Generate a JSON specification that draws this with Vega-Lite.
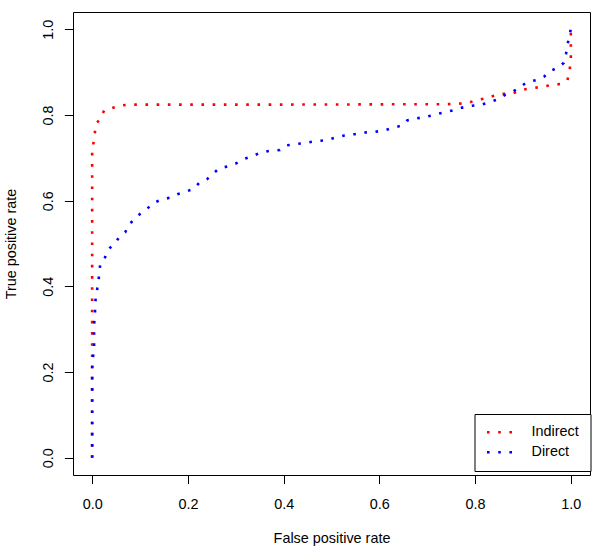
{
  "$schema": "https://vega.github.io/schema/vega-lite/v6.json",
  "width": 517,
  "height": 463,
  "autosize": {"type": "none"},
  "padding": {"left": 73, "top": 12, "right": 10, "bottom": 79},
  "background": "white",
  "config": {
    "view": {"stroke": "black", "strokeWidth": 1},
    "axis": {
      "domain": false,
      "grid": false,
      "ticks": true,
      "tickColor": "black",
      "tickSize": 8.6,
      "tickWidth": 1,
      "labelFont": "Liberation Sans",
      "labelFontSize": 14.4,
      "labelColor": "black",
      "titleFont": "Liberation Sans",
      "titleFontSize": 14.4,
      "titleFontWeight": "normal",
      "titleColor": "black"
    }
  },
  "data": {
    "values": [
      {"s": "Indirect", "i": 0, "fpr": 0, "tpr": 0},
      {"s": "Indirect", "i": 1, "fpr": 0, "tpr": 0.72},
      {"s": "Indirect", "i": 2, "fpr": 0.002, "tpr": 0.728},
      {"s": "Indirect", "i": 3, "fpr": 0.005, "tpr": 0.753},
      {"s": "Indirect", "i": 4, "fpr": 0.008, "tpr": 0.778},
      {"s": "Indirect", "i": 5, "fpr": 0.017, "tpr": 0.792},
      {"s": "Indirect", "i": 6, "fpr": 0.025, "tpr": 0.81},
      {"s": "Indirect", "i": 7, "fpr": 0.042, "tpr": 0.816},
      {"s": "Indirect", "i": 8, "fpr": 0.06, "tpr": 0.822},
      {"s": "Indirect", "i": 9, "fpr": 0.082, "tpr": 0.824},
      {"s": "Indirect", "i": 10, "fpr": 0.4, "tpr": 0.824},
      {"s": "Indirect", "i": 11, "fpr": 0.74, "tpr": 0.825},
      {"s": "Indirect", "i": 12, "fpr": 0.783, "tpr": 0.827},
      {"s": "Indirect", "i": 13, "fpr": 0.801, "tpr": 0.834},
      {"s": "Indirect", "i": 14, "fpr": 0.819, "tpr": 0.838},
      {"s": "Indirect", "i": 15, "fpr": 0.838, "tpr": 0.844},
      {"s": "Indirect", "i": 16, "fpr": 0.857, "tpr": 0.849},
      {"s": "Indirect", "i": 17, "fpr": 0.879, "tpr": 0.85},
      {"s": "Indirect", "i": 18, "fpr": 0.896, "tpr": 0.858},
      {"s": "Indirect", "i": 19, "fpr": 0.916, "tpr": 0.862},
      {"s": "Indirect", "i": 20, "fpr": 0.937, "tpr": 0.865},
      {"s": "Indirect", "i": 21, "fpr": 0.957, "tpr": 0.869},
      {"s": "Indirect", "i": 22, "fpr": 0.978, "tpr": 0.872},
      {"s": "Indirect", "i": 23, "fpr": 0.993, "tpr": 0.881},
      {"s": "Indirect", "i": 24, "fpr": 0.997, "tpr": 0.902},
      {"s": "Indirect", "i": 25, "fpr": 1, "tpr": 0.925},
      {"s": "Indirect", "i": 26, "fpr": 1, "tpr": 0.951},
      {"s": "Indirect", "i": 27, "fpr": 1, "tpr": 0.976},
      {"s": "Indirect", "i": 28, "fpr": 1, "tpr": 1},
      {"s": "Direct", "i": 0, "fpr": 0, "tpr": 0},
      {"s": "Direct", "i": 1, "fpr": 0, "tpr": 0.21},
      {"s": "Direct", "i": 2, "fpr": 0.002, "tpr": 0.236},
      {"s": "Direct", "i": 3, "fpr": 0.004, "tpr": 0.261},
      {"s": "Direct", "i": 4, "fpr": 0.004, "tpr": 0.311},
      {"s": "Direct", "i": 5, "fpr": 0.006, "tpr": 0.334},
      {"s": "Direct", "i": 6, "fpr": 0.006, "tpr": 0.36},
      {"s": "Direct", "i": 7, "fpr": 0.009, "tpr": 0.383},
      {"s": "Direct", "i": 8, "fpr": 0.0125, "tpr": 0.407},
      {"s": "Direct", "i": 9, "fpr": 0.015, "tpr": 0.43},
      {"s": "Direct", "i": 10, "fpr": 0.017, "tpr": 0.454},
      {"s": "Direct", "i": 11, "fpr": 0.027, "tpr": 0.468},
      {"s": "Direct", "i": 12, "fpr": 0.034, "tpr": 0.487},
      {"s": "Direct", "i": 13, "fpr": 0.047, "tpr": 0.499},
      {"s": "Direct", "i": 14, "fpr": 0.056, "tpr": 0.514},
      {"s": "Direct", "i": 15, "fpr": 0.069, "tpr": 0.526},
      {"s": "Direct", "i": 16, "fpr": 0.077, "tpr": 0.544},
      {"s": "Direct", "i": 17, "fpr": 0.089, "tpr": 0.558},
      {"s": "Direct", "i": 18, "fpr": 0.101, "tpr": 0.57},
      {"s": "Direct", "i": 19, "fpr": 0.115, "tpr": 0.581},
      {"s": "Direct", "i": 20, "fpr": 0.127, "tpr": 0.594},
      {"s": "Direct", "i": 21, "fpr": 0.144, "tpr": 0.602},
      {"s": "Direct", "i": 22, "fpr": 0.163, "tpr": 0.607},
      {"s": "Direct", "i": 23, "fpr": 0.178, "tpr": 0.615},
      {"s": "Direct", "i": 24, "fpr": 0.196, "tpr": 0.621},
      {"s": "Direct", "i": 25, "fpr": 0.213, "tpr": 0.628},
      {"s": "Direct", "i": 26, "fpr": 0.224, "tpr": 0.642},
      {"s": "Direct", "i": 27, "fpr": 0.24, "tpr": 0.65},
      {"s": "Direct", "i": 28, "fpr": 0.252, "tpr": 0.662},
      {"s": "Direct", "i": 29, "fpr": 0.265, "tpr": 0.675},
      {"s": "Direct", "i": 30, "fpr": 0.284, "tpr": 0.68},
      {"s": "Direct", "i": 31, "fpr": 0.301, "tpr": 0.687},
      {"s": "Direct", "i": 32, "fpr": 0.316, "tpr": 0.697},
      {"s": "Direct", "i": 33, "fpr": 0.334, "tpr": 0.703},
      {"s": "Direct", "i": 34, "fpr": 0.351, "tpr": 0.712},
      {"s": "Direct", "i": 35, "fpr": 0.37, "tpr": 0.716},
      {"s": "Direct", "i": 36, "fpr": 0.392, "tpr": 0.718},
      {"s": "Direct", "i": 37, "fpr": 0.406, "tpr": 0.729},
      {"s": "Direct", "i": 38, "fpr": 0.427, "tpr": 0.732},
      {"s": "Direct", "i": 39, "fpr": 0.448, "tpr": 0.735},
      {"s": "Direct", "i": 40, "fpr": 0.468, "tpr": 0.739},
      {"s": "Direct", "i": 41, "fpr": 0.49, "tpr": 0.741},
      {"s": "Direct", "i": 42, "fpr": 0.508, "tpr": 0.747},
      {"s": "Direct", "i": 43, "fpr": 0.527, "tpr": 0.752},
      {"s": "Direct", "i": 44, "fpr": 0.548, "tpr": 0.755},
      {"s": "Direct", "i": 45, "fpr": 0.568, "tpr": 0.759},
      {"s": "Direct", "i": 46, "fpr": 0.589, "tpr": 0.76},
      {"s": "Direct", "i": 47, "fpr": 0.61, "tpr": 0.764},
      {"s": "Direct", "i": 48, "fpr": 0.628, "tpr": 0.77},
      {"s": "Direct", "i": 49, "fpr": 0.647, "tpr": 0.775},
      {"s": "Direct", "i": 50, "fpr": 0.658, "tpr": 0.787},
      {"s": "Direct", "i": 51, "fpr": 0.679, "tpr": 0.792},
      {"s": "Direct", "i": 52, "fpr": 0.699, "tpr": 0.796},
      {"s": "Direct", "i": 53, "fpr": 0.718, "tpr": 0.801},
      {"s": "Direct", "i": 54, "fpr": 0.735, "tpr": 0.806},
      {"s": "Direct", "i": 55, "fpr": 0.755, "tpr": 0.811},
      {"s": "Direct", "i": 56, "fpr": 0.773, "tpr": 0.817},
      {"s": "Direct", "i": 57, "fpr": 0.792, "tpr": 0.821},
      {"s": "Direct", "i": 58, "fpr": 0.813, "tpr": 0.824},
      {"s": "Direct", "i": 59, "fpr": 0.831, "tpr": 0.83},
      {"s": "Direct", "i": 60, "fpr": 0.849, "tpr": 0.837},
      {"s": "Direct", "i": 61, "fpr": 0.863, "tpr": 0.847},
      {"s": "Direct", "i": 62, "fpr": 0.88, "tpr": 0.855},
      {"s": "Direct", "i": 63, "fpr": 0.894, "tpr": 0.865},
      {"s": "Direct", "i": 64, "fpr": 0.908, "tpr": 0.876},
      {"s": "Direct", "i": 65, "fpr": 0.927, "tpr": 0.881},
      {"s": "Direct", "i": 66, "fpr": 0.944, "tpr": 0.889},
      {"s": "Direct", "i": 67, "fpr": 0.955, "tpr": 0.901},
      {"s": "Direct", "i": 68, "fpr": 0.972, "tpr": 0.91},
      {"s": "Direct", "i": 69, "fpr": 0.985, "tpr": 0.921},
      {"s": "Direct", "i": 70, "fpr": 0.99, "tpr": 0.943},
      {"s": "Direct", "i": 71, "fpr": 0.994, "tpr": 0.969},
      {"s": "Direct", "i": 72, "fpr": 0.999, "tpr": 0.995},
      {"s": "Direct", "i": 73, "fpr": 1, "tpr": 1}
    ]
  },
  "mark": {
    "type": "line",
    "strokeWidth": 2.6,
    "strokeDash": [2.6, 8.6],
    "strokeCap": "butt",
    "clip": false
  },
  "encoding": {
    "x": {
      "field": "fpr",
      "type": "quantitative",
      "scale": {"domain": [-0.04, 1.04], "nice": false, "zero": false},
      "axis": {
        "title": "False positive rate",
        "values": [0, 0.2, 0.4, 0.6, 0.8, 1],
        "format": ".1f",
        "labelPadding": 14,
        "labelBaseline": "top",
        "titleX": 258.5,
        "titleY": 67,
        "titleBaseline": "alphabetic",
        "titleAlign": "center"
      }
    },
    "y": {
      "field": "tpr",
      "type": "quantitative",
      "scale": {"domain": [-0.04, 1.04], "nice": false, "zero": false},
      "axis": {
        "title": "True positive rate",
        "values": [0, 0.2, 0.4, 0.6, 0.8, 1],
        "format": ".1f",
        "labelAngle": -90,
        "labelAlign": "center",
        "labelBaseline": "bottom",
        "labelPadding": 8.8,
        "titleX": -57.5,
        "titleY": 231.5,
        "titleAngle": -90,
        "titleBaseline": "alphabetic",
        "titleAlign": "center"
      }
    },
    "color": {
      "field": "s",
      "type": "nominal",
      "scale": {"domain": ["Indirect", "Direct"], "range": ["#FF0000", "#0000FF"]},
      "legend": {
        "title": null,
        "orient": "none",
        "legendX": 401.5,
        "legendY": 402,
        "padding": 11,
        "strokeColor": "black",
        "fillColor": "white",
        "symbolType": "stroke",
        "symbolSize": 625,
        "symbolStrokeWidth": 2.6,
        "symbolDash": [2.6, 8.6],
        "labelOffset": 18,
        "labelFont": "Liberation Sans",
        "labelFontSize": 14.4,
        "labelColor": "black",
        "clipHeight": 14.4,
        "rowPadding": 4
      }
    },
    "order": {"field": "i", "type": "quantitative"}
  }
}
